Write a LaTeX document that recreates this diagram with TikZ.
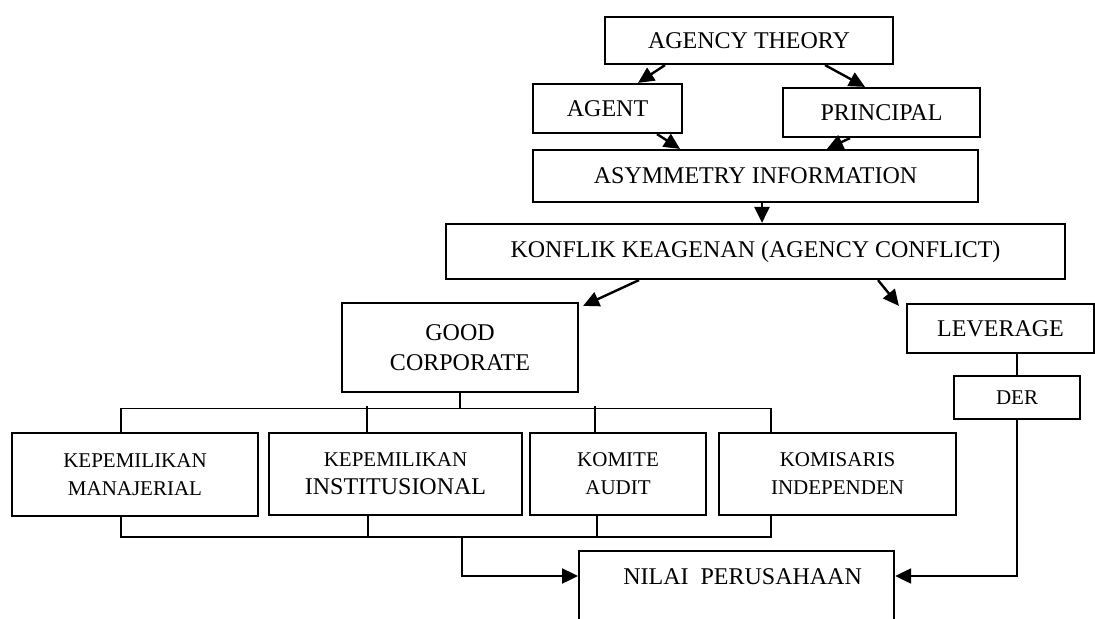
\documentclass[tikz,border=0pt]{standalone}
\usepackage{fontspec}
\setmainfont{Liberation Serif}
\usepackage{tikz}
\usetikzlibrary{arrows.meta, positioning, calc}

\begin{document}
\begin{tikzpicture}[
    x=0.5pt, y=-0.5pt,
    box/.style={draw, line width=1.1pt, inner sep=0pt, align=center, font=\fontsize{12}{15}\selectfont},
    smallbox/.style={box, font=\fontsize{10.5}{14}\selectfont},
    arrow/.style={-{Triangle[length=8pt, width=7.5pt]}, line width=1.2pt},
    link/.style={line width=0.6pt}
]
    \useasboundingbox (0,0) rectangle (1095,619);
    \clip (0,0) rectangle (1095,619);

    \node[box, minimum width=144pt, minimum height=23.5pt] (theory) at (749,40.5) {AGENCY THEORY};
    \node[box, minimum width=74.5pt, minimum height=24.5pt] (agent) at (607.5,108.5) {AGENT};
    \node[box, minimum width=98.5pt, minimum height=24.5pt] (principal) at (881.5,112.5) {PRINCIPAL};
    \node[box, minimum width=222.5pt, minimum height=26pt] (asym) at (755.5,176) {ASYMMETRY INFORMATION};
    \node[box, minimum width=309.5pt, minimum height=27.5pt] (conflict) at (755.5,251.5) {KONFLIK KEAGENAN (AGENCY CONFLICT)};
    \node[box, minimum width=118pt, minimum height=44.5pt] (gcg) at (460,347.5) {GOOD\\CORPORATE};
    \node[box, minimum width=93.5pt, minimum height=24.5pt] (leverage) at (1000.5,328.5) {LEVERAGE};
    \node[smallbox, minimum width=63pt, minimum height=21.5pt] (der) at (1017,397.5) {DER};

    % indikator GCG
    \node[smallbox, minimum width=123pt, minimum height=41.5pt] (km) at (135,474.5) {KEPEMILIKAN\\MANAJERIAL};
    \node[smallbox, minimum width=126.5pt, minimum height=41pt] (ki) at (395.5,474) {KEPEMILIKAN\\\fontsize{12}{15}\selectfont INSTITUSIONAL};
    \node[smallbox, minimum width=88pt, minimum height=41pt] (ka) at (618,474) {KOMITE\\AUDIT};
    \node[smallbox, minimum width=118.5pt, minimum height=41pt] (kin) at (837.5,474) {KOMISARIS\\INDEPENDEN};

    \node[box, anchor=north west, minimum width=157.5pt, text height=16.5pt, text depth=28.5pt] (nilai) at (578,550) {\ \ NILAI\ \ PERUSAHAAN};

    \draw[arrow] ($(theory.south)+(-84,0)$) -- ($(agent.north)+(30.5,0)$);
    \draw[arrow] ($(theory.south)+(76,0)$) -- ($(principal.north)+(-16.5,0)$);
    \draw[arrow] ($(agent.south)+(49.5,0)$) -- ($(asym.north)+(-75.5,0)$);
    \draw[arrow] ($(principal.south)+(-31.5,0)$) -- ($(asym.north)+(71.5,0)$);
    \draw[arrow] ($(asym.south)+(6.5,0)$) -- ($(conflict.north)+(6.5,0)$);
    \draw[arrow] ($(conflict.south)+(-116.5,0)$) -- ($(gcg.north east)+(4,4)$);
    \draw[arrow] ($(conflict.south)+(122.5,0)$) -- ($(leverage.north west)+(-7,3)$);
    \draw[link] (der.north) -- (der.north |- leverage.south);

    % garis ke indikator
    \coordinate (busT) at ($(gcg.south)+(0,15)$);
    \draw[link] (gcg.south) -- (busT);
    \draw[link] ($(km.north)+(-14,0)$) |- (busT) -| ($(kin.north)+(-66.5,0)$);
    \draw[link] ($(ki.north)+(-28.5,0)$) -- ++(0,-26);
    \draw[link] ($(ka.north)+(-23,0)$) -- ++(0,-26);

    \coordinate (busB) at (462,537);
    \draw[link] ($(km.south)+(-14,0)$) |- (busB) -| ($(kin.south)+(-66.5,0)$);
    \draw[link] ($(ki.south)+(-27.5,0)$) -- ++(0,22);
    \draw[link] ($(ka.south)+(-21,0)$) -- ++(0,22);

    \draw[arrow] (busB) |- ($(nilai.north west)+(0,26)$);
    \draw[arrow] (der.south) |- ($(nilai.north east)+(0,26)$);
\end{tikzpicture}
\end{document}
